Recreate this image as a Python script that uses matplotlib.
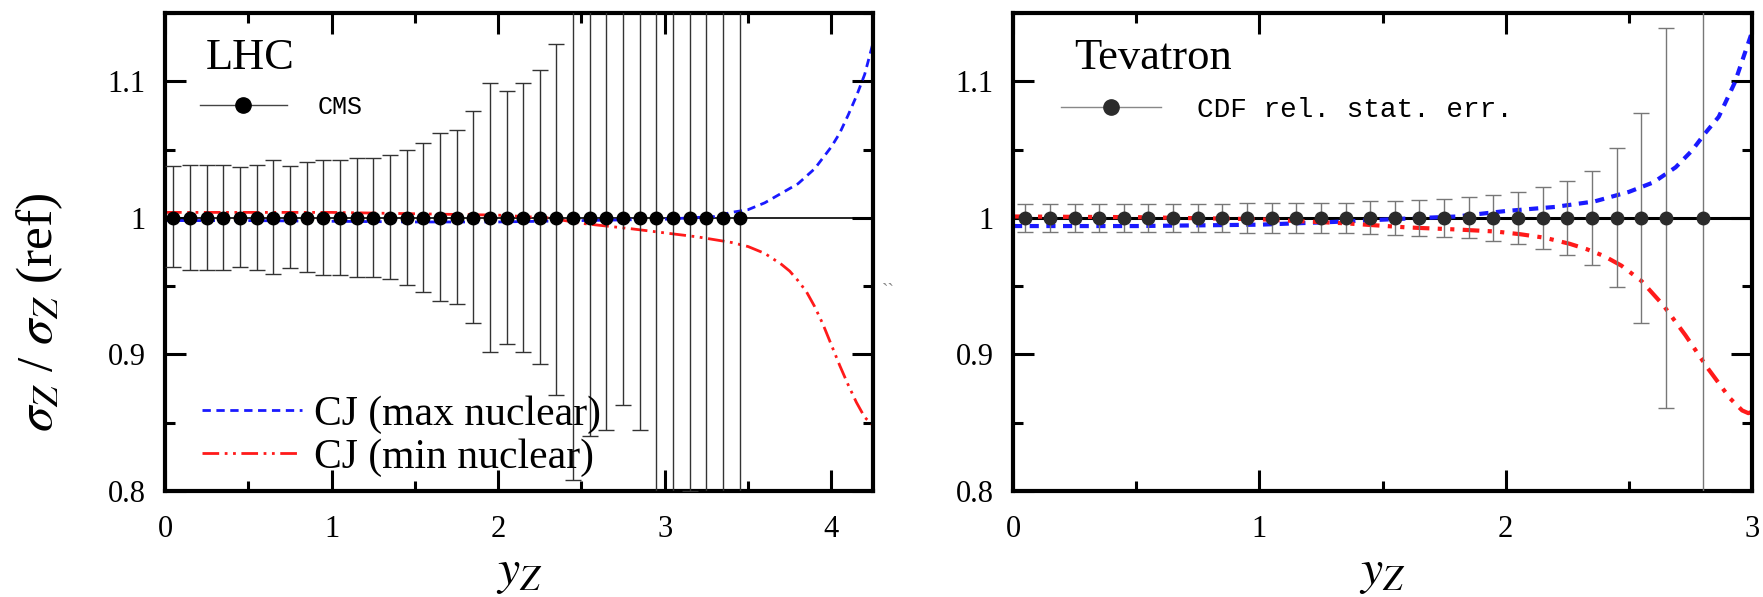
import numpy as np
import matplotlib.pyplot as plt
from matplotlib.lines import Line2D
from matplotlib.ticker import MultipleLocator, FuncFormatter

plt.rcParams['font.family'] = ['Liberation Serif', 'DejaVu Serif']
plt.rcParams['mathtext.fontset'] = 'stix'

# LHC panel: CMS relative errors (points sit at 1)
cms_x = [0.05, 0.15, 0.25, 0.35, 0.45, 0.55, 0.65, 0.75, 0.85, 0.95,
         1.05, 1.15, 1.25, 1.35, 1.45, 1.55, 1.65, 1.75, 1.85, 1.95,
         2.05, 2.15, 2.25, 2.35, 2.45, 2.55, 2.65, 2.75, 2.85, 2.95,
         3.05, 3.15, 3.25, 3.35, 3.45]
cms_y = [1.0] * 35
cms_err_hi = [0.038, 0.039, 0.039, 0.039, 0.037, 0.039, 0.042, 0.038, 0.041, 0.042,
              0.042, 0.044, 0.044, 0.046, 0.050, 0.055, 0.062, 0.064, 0.078, 0.099,
              0.093, 0.099, 0.108, 0.127, 0.19, 0.16, 0.16, 0.16, 0.16, 0.25,
              0.22, 0.20, 0.25, 0.25, 0.25]
cms_err_lo = [0.036, 0.038, 0.038, 0.038, 0.036, 0.038, 0.041, 0.037, 0.040, 0.042,
              0.042, 0.043, 0.043, 0.045, 0.049, 0.054, 0.061, 0.063, 0.077, 0.098,
              0.092, 0.098, 0.107, 0.13, 0.192, 0.16, 0.155, 0.137, 0.155, 0.25,
              0.22, 0.20, 0.25, 0.25, 0.25]

# LHC panel: CJ curves
lhc_max_x = [0, 0.5, 1.0, 1.5, 2.0, 2.5, 3.0, 3.3, 3.4, 3.5, 3.6, 3.7, 3.8, 3.9,
             4.0, 4.05, 4.1, 4.15, 4.2, 4.25]
lhc_max_y = [0.998, 0.998, 0.9975, 0.997, 0.997, 0.998, 0.999, 1.001, 1.004, 1.006,
             1.011, 1.018, 1.025, 1.036, 1.052, 1.062, 1.075, 1.089, 1.105, 1.128]
lhc_min_x = [0, 0.5, 1.0, 1.5, 2.0, 2.3, 2.5, 2.8, 3.0, 3.2, 3.4, 3.5, 3.6, 3.7,
             3.75, 3.8, 3.85, 3.9, 3.95, 4.0, 4.05, 4.1, 4.15, 4.2, 4.25]
lhc_min_y = [1.004, 1.004, 1.004, 1.003, 1.002, 1.0, 0.996, 0.992, 0.989, 0.986,
             0.982, 0.979, 0.974, 0.966, 0.961, 0.954, 0.946, 0.935, 0.922, 0.907,
             0.892, 0.878, 0.865, 0.854, 0.848]

# Tevatron panel: CDF relative stat. errors
cdf_x = [0.05, 0.15, 0.25, 0.35, 0.45, 0.55, 0.65, 0.75, 0.85, 0.95,
         1.05, 1.15, 1.25, 1.35, 1.45, 1.55, 1.65, 1.75, 1.85, 1.95,
         2.05, 2.15, 2.25, 2.35, 2.45, 2.55, 2.65, 2.8]
cdf_y = [1.0] * 28
cdf_err = [0.0105, 0.0105, 0.0105, 0.0105, 0.0105, 0.0105, 0.0105, 0.0105, 0.0105, 0.011,
           0.011, 0.011, 0.011, 0.011, 0.012, 0.0125, 0.013, 0.014, 0.015, 0.0166,
           0.019, 0.0225, 0.027, 0.0345, 0.0508, 0.077, 0.139, 0.3]

tev_max_x = [0, 0.5, 1.0, 1.3, 1.6, 1.8, 2.0, 2.2, 2.36, 2.42, 2.5, 2.6, 2.69, 2.755,
             2.81, 2.865, 2.93, 3.0]
tev_max_y = [0.994, 0.994, 0.995, 0.997, 0.9995, 1.001, 1.005, 1.008, 1.012, 1.015,
             1.019, 1.026, 1.037, 1.049, 1.062, 1.074, 1.099, 1.136]
tev_min_x = [0, 0.5, 1.0, 1.35, 1.6, 1.8, 1.96, 2.06, 2.16, 2.26, 2.33, 2.4, 2.47,
             2.55, 2.64, 2.73, 2.82, 2.91, 2.96, 2.985, 3.0]
tev_min_y = [1.001, 1.0005, 0.999, 0.996, 0.993, 0.9915, 0.990, 0.988, 0.9854, 0.981,
             0.977, 0.972, 0.965, 0.954, 0.936, 0.914, 0.89, 0.868, 0.859, 0.857, 0.858]

fig = plt.figure(figsize=(17.63, 5.97), dpi=100)
ax1 = fig.add_axes([165 / 1763, 106 / 597, 708 / 1763, 478 / 597])
ax2 = fig.add_axes([1013 / 1763, 106 / 597, 739 / 1763, 478 / 597])

fmt = FuncFormatter(lambda v, p: '%g' % v)


def style_axes(ax, xmax):
    ax.set_xlim(0, xmax)
    ax.set_ylim(0.8, 1.15)
    ax.xaxis.set_major_locator(MultipleLocator(1))
    ax.xaxis.set_minor_locator(MultipleLocator(0.5))
    ax.yaxis.set_major_locator(MultipleLocator(0.1))
    ax.yaxis.set_minor_locator(MultipleLocator(0.05))
    ax.xaxis.set_major_formatter(fmt)
    ax.yaxis.set_major_formatter(fmt)
    ax.tick_params(which='both', direction='in', top=True, right=True, width=2.2)
    ax.tick_params(which='major', length=15)
    ax.tick_params(which='minor', length=7)
    ax.tick_params(axis='x', which='major', labelsize=22, pad=17)
    ax.tick_params(axis='y', which='major', labelsize=22, pad=14)
    for s in ax.spines.values():
        s.set_linewidth(3)
    ax.set_xlabel(r'$y_Z$', fontsize=36, labelpad=4)


style_axes(ax1, 4.25)
style_axes(ax2, 3.0)

# left panel
ax1.axhline(1.0, color='black', lw=1.2, zorder=1)
l_max, = ax1.plot(lhc_max_x, lhc_max_y, color='#1a1aff', lw=2,
                  linestyle=(0, (3, 2)), label='CJ (max nuclear)', zorder=2)
l_min, = ax1.plot(lhc_min_x, lhc_min_y, color='#ff1a1a', lw=2,
                  linestyle=(0, (6, 2, 1, 2, 1, 2)), label='CJ (min nuclear)', zorder=2)
ax1.errorbar(cms_x, cms_y, yerr=[cms_err_lo, cms_err_hi], fmt='o', color='black',
             ms=9, ecolor='#333333', elinewidth=1, capsize=6, capthick=1, zorder=3)

cms_handle = Line2D([], [], color='#444444', lw=1, marker='o', ms=11,
                    markerfacecolor='black', markeredgecolor='black')
leg_cms = ax1.legend([cms_handle], ['CMS'], loc='center left',
                     bbox_to_anchor=(0.049, 0.803), frameon=False, borderpad=0,
                     borderaxespad=0, handlelength=3.5, handletextpad=1.2,
                     prop={'family': 'Liberation Mono', 'size': 18})
ax1.add_artist(leg_cms)
ax1.legend(handles=[l_max, l_min], loc='lower left', bbox_to_anchor=(0.052, 0.03),
           frameon=False, borderpad=0, borderaxespad=0, handlelength=2.4,
           handletextpad=0.3, labelspacing=0.1, fontsize=30)
ax1.text(0.058, 0.906, 'LHC', transform=ax1.transAxes, fontsize=32, va='center')

# right panel
ax2.axhline(1.0, color='black', lw=2.2, zorder=1)
ax2.plot(tev_max_x, tev_max_y, color='#1a1aff', lw=3, linestyle=(0, (2.2, 1.8)), zorder=2)
ax2.plot(tev_min_x, tev_min_y, color='#ff1a1a', lw=3,
         linestyle=(0, (4, 2, 1, 2, 1, 2)), zorder=2)
ax2.errorbar(cdf_x, cdf_y, yerr=cdf_err, fmt='o', color='#2b2b2b', ms=9,
             ecolor='#777777', elinewidth=1, capsize=6, capthick=1, zorder=3)

cdf_handle = Line2D([], [], color='#888888', lw=1, marker='o', ms=11,
                    markerfacecolor='#2b2b2b', markeredgecolor='#2b2b2b')
ax2.legend([cdf_handle], ['CDF rel. stat. err.'], loc='center left',
           bbox_to_anchor=(0.065, 0.797), frameon=False, borderpad=0,
           borderaxespad=0, handlelength=3.6, handletextpad=1.3,
           prop={'family': 'Liberation Mono', 'size': 20})
ax2.text(0.083, 0.906, 'Tevatron', transform=ax2.transAxes, fontsize=32, va='center')

fig.text(40 / 1763, 1 - 312 / 597, r'$\sigma_Z$ / $\sigma_Z$ (ref)', rotation=90,
         fontsize=37, ha='center', va='center')
fig.text(888 / 1763, 1 - 292 / 597, '``', color='#888888', fontsize=14,
         ha='center', va='center')

fig.savefig('out.png', dpi=100)
